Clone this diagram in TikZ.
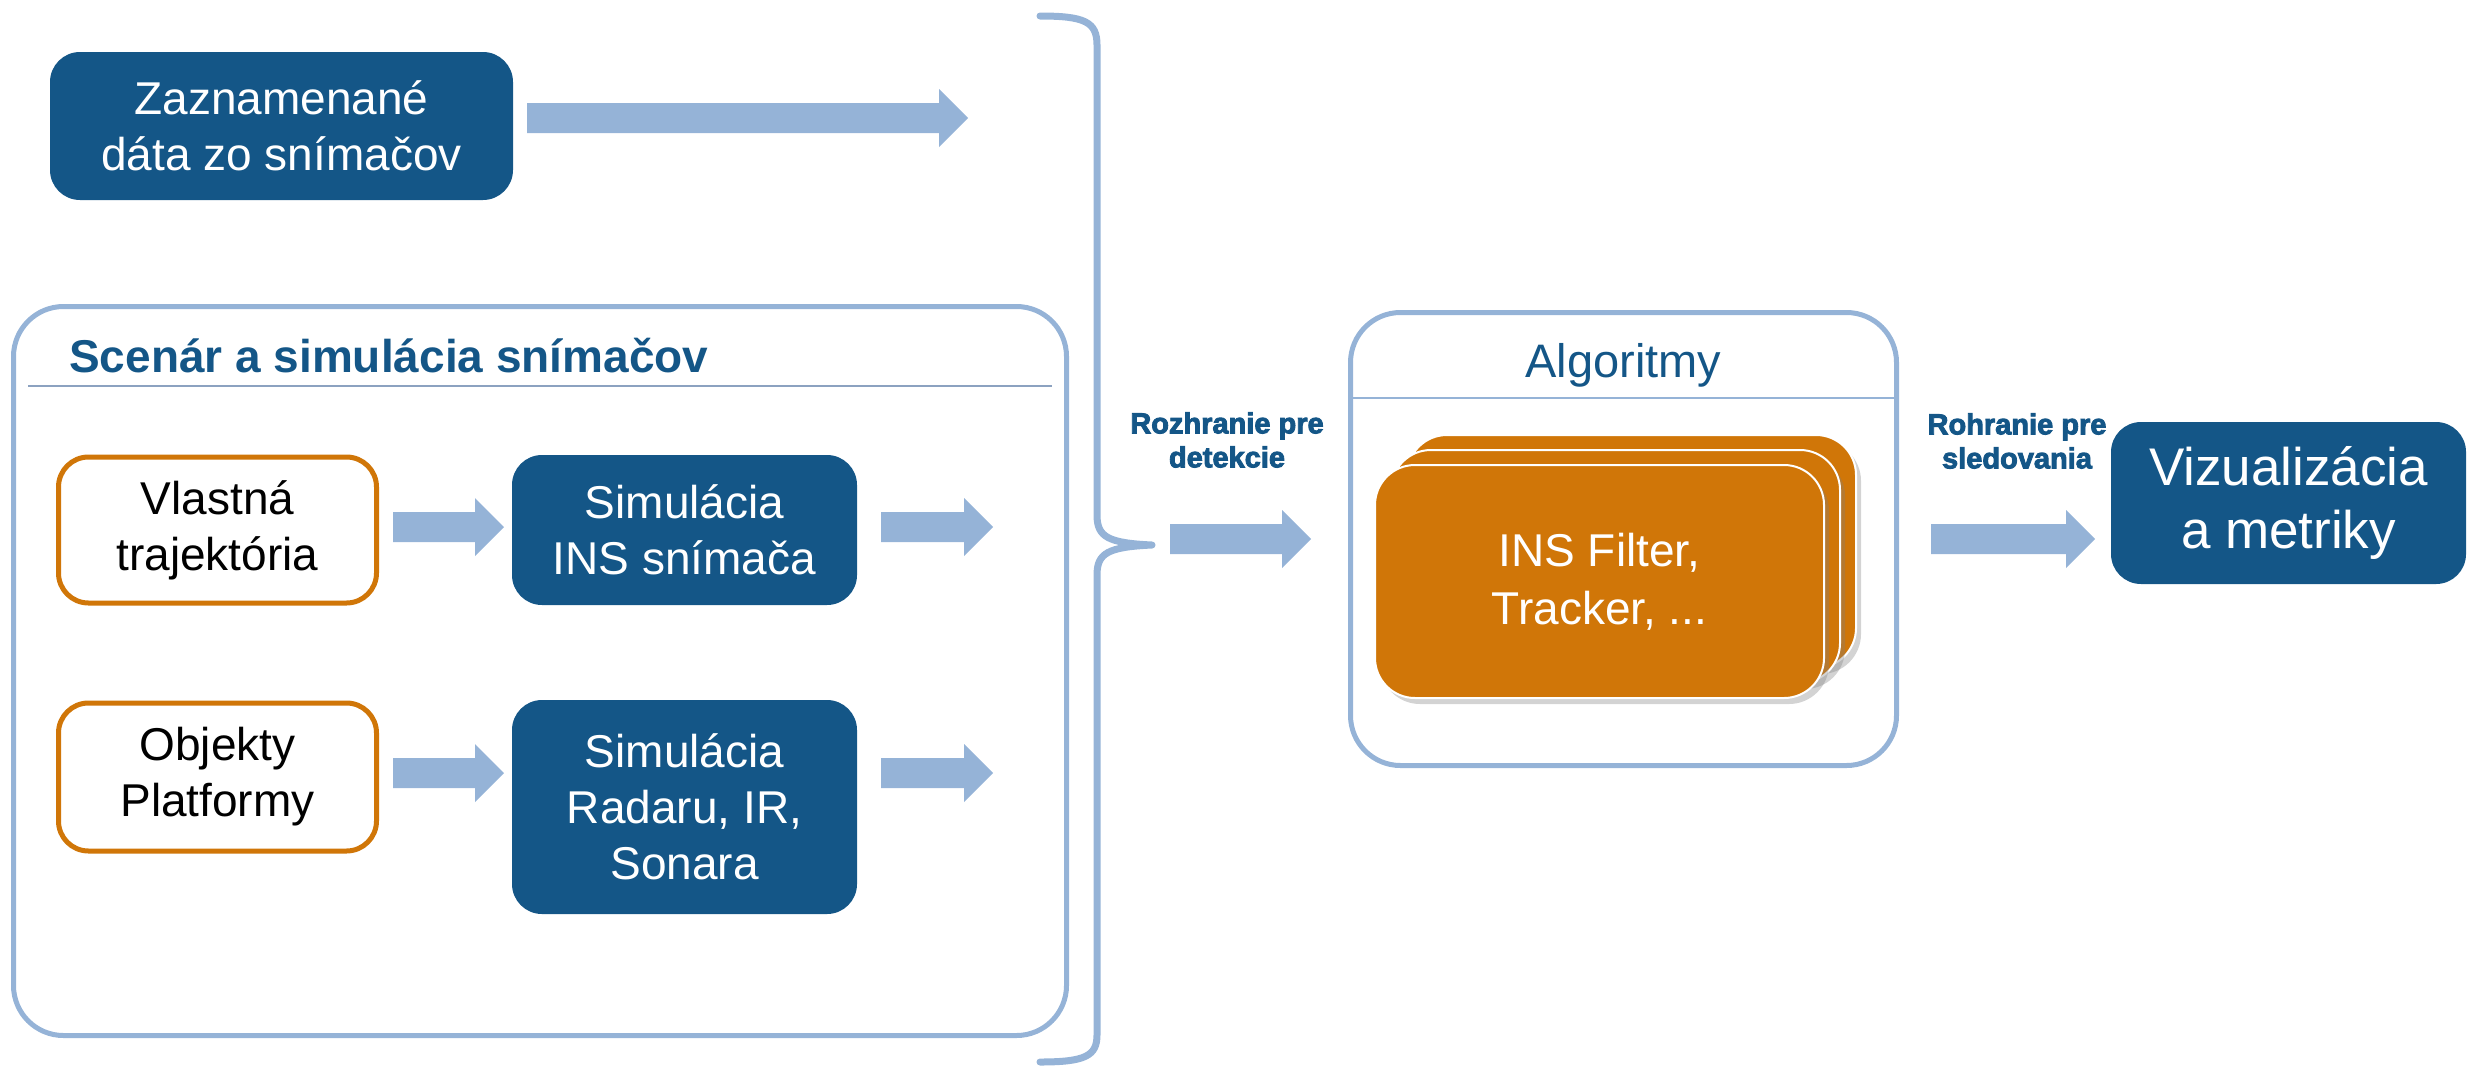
\documentclass[tikz,border=0pt]{standalone}
\usepackage{fontspec}
\setmainfont{Liberation Sans}
\newfontfamily\heavyfont[FakeBold=3]{Liberation Sans Bold}
\usetikzlibrary{calc,shadows}
\definecolor{dblue}{RGB}{20,86,135}
\definecolor{lblue}{RGB}{149,179,215}
\definecolor{orng}{RGB}{208,118,8}
\definecolor{sepline}{RGB}{140,162,192}
\newcommand\fatarrow[2]{\fill[arrfill] let \p1=(#1), \p2=(#2) in
  (\x1,\y1+15pt) -- (\x2-29pt,\y1+15pt) -- (\x2-29pt,\y1+29pt) -- (\x2,\y1)
  -- (\x2-29pt,\y1-29pt) -- (\x2-29pt,\y1-15pt) -- (\x1,\y1-15pt) -- cycle;}
\begin{document}
\begin{tikzpicture}[x=1pt,y=-1pt,
  arrfill/.style={fill=lblue},
  blueb/.style={fill=dblue, rounded corners=30pt, text=white, align=center, inner sep=0pt, font=\fontsize{46}{56}\selectfont},
  orb/.style={draw=orng, line width=5pt, fill=white, rounded corners=30pt, align=center, inner sep=0pt, text=black, font=\fontsize{46}{56}\selectfont},
  bigbox/.style={draw=lblue, line width=5pt, rounded corners=50pt, inner sep=0pt},
  card/.style={fill=orng, draw=white, line width=2pt, rounded corners=40pt, minimum width=449pt, minimum height=233pt, inner sep=0pt,
     drop shadow={shadow xshift=5pt, shadow yshift=-6pt, opacity=0.35}},
  lbl/.style={text=dblue, align=center, inner sep=0pt, font=\heavyfont\fontsize{29}{34}\selectfont},
  bracestyle/.style={draw=lblue, line width=7pt, line cap=round, line join=round}
]
\useasboundingbox (0,0) rectangle (2467,1066);

% top recorded data
\node[blueb, minimum width=463pt, minimum height=148pt] (zaz) at (281.5,126) {Zaznamenané\\dáta zo snímačov};

% scenario box
\node[bigbox, minimum width=1053pt, minimum height=729pt] (scen) at (540,671) {};
\node[anchor=base west, inner sep=0pt, text=dblue, font=\bfseries\fontsize{46}{56}\selectfont] (scentitle) at (69,372) {Scenár a simulácia snímačov};
\draw[sepline, line width=2pt] (28,386) coordinate (sl1) -- (1052,386) coordinate (sl2);

\node[orb, minimum width=318pt, minimum height=146pt] (vlast) at (217.5,530) {Vlastná\\trajektória};
\node[blueb, minimum width=345pt, minimum height=150pt] (insim) at (684.5,530) {Simulácia\\INS snímača};
\node[orb, minimum width=318pt, minimum height=148pt] (obj) at (217.5,777) {Objekty\\Platformy};
\node[blueb, minimum width=345pt, minimum height=214pt] (radar) at (684.5,807) {Simulácia\\Radaru, IR,\\Sonara};

% arrows
\coordinate (a0s) at (527,118);  \coordinate (a0e) at (968,118);
\coordinate (a1s) at (393,527);  \coordinate (a1e) at (504,527);
\coordinate (a2s) at (881,527);  \coordinate (a2e) at (993,527);
\coordinate (a3s) at (393,773);  \coordinate (a3e) at (504,773);
\coordinate (a4s) at (881,773);  \coordinate (a4e) at (993,773);
\coordinate (a5s) at (1170,539); \coordinate (a5e) at (1311,539);
\coordinate (a6s) at (1931,539); \coordinate (a6e) at (2095,539);
\fatarrow{a0s}{a0e}
\fatarrow{a1s}{a1e}
\fatarrow{a2s}{a2e}
\fatarrow{a3s}{a3e}
\fatarrow{a4s}{a4e}
\fatarrow{a5s}{a5e}
\fatarrow{a6s}{a6e}

% brace
\coordinate (btop) at (1040,16);
\coordinate (btip) at (1152,545);
\coordinate (bbot) at (1040,1062);
\draw[bracestyle] (btop) .. controls (1085,16) and (1097,22) .. (1097,45)
  -- (1097,515) .. controls (1097,537) and (1108,543) .. (btip)
  .. controls (1108,547) and (1097,553) .. (1097,575)
  -- (1097,1035) .. controls (1097,1056) and (1085,1062) .. (bbot);

% labels
\node[lbl] (lab1) at (1227,440) {Rozhranie pre\\detekcie};
\node[lbl] (lab2) at (2017,441) {Rohranie pre\\sledovania};

% algorithms box
\node[bigbox, minimum width=546pt, minimum height=453pt] (alg) at (1623.5,539) {};
\node[anchor=base, inner sep=0pt, text=dblue, font=\fontsize{47}{56}\selectfont] (algtitle) at (1623.5,377) {Algoritmy};
\draw[lblue, line width=2.5pt] (1348,398) coordinate (al1) -- (1899,398) coordinate (al2);

\node[card] (card3) at (1631.5,551.5) {};
\node[card] (card2) at (1615.5,566.5) {};
\node[card, text=white, align=center, font=\fontsize{46}{58}\selectfont] (card1) at (1599.5,581.5) {INS Filter,\\Tracker, ...};

% visualization
\node[blueb, minimum width=355pt, minimum height=162pt, font=\fontsize{53}{63}\selectfont] (vis) at (2288.5,503) {Vizualizácia\\a metriky};
\end{tikzpicture}
\end{document}
